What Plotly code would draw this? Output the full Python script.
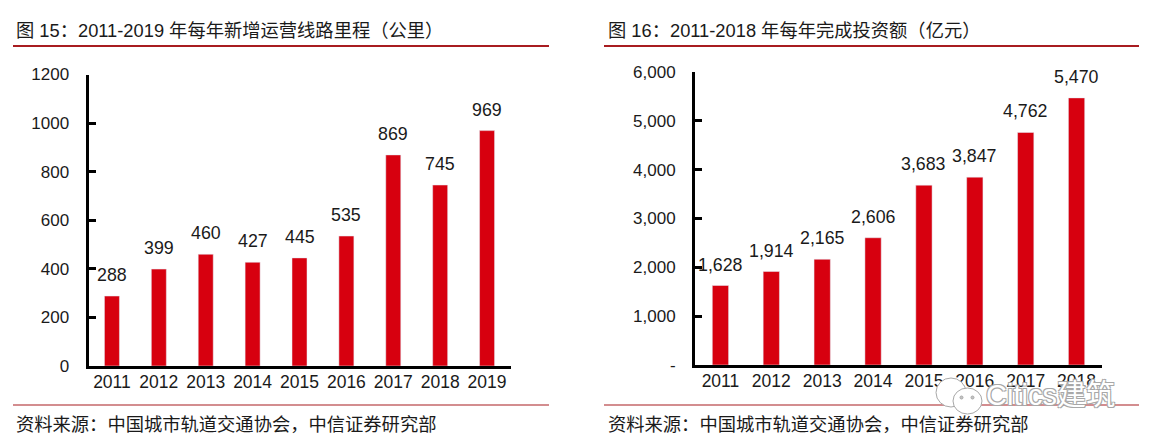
import plotly.graph_objects as go

# Annual new operating mileage (km)
mileage_years = ["2011", "2012", "2013", "2014", "2015", "2016", "2017", "2018", "2019"]
mileage_km = [288, 399, 460, 427, 445, 535, 869, 745, 969]
mileage_ticks = [0, 200, 400, 600, 800, 1000, 1200]
mileage_tick_text = ["0", "200", "400", "600", "800", "1000", "1200"]

# Annual completed investment (100 million yuan)
invest_years = ["2011", "2012", "2013", "2014", "2015", "2016", "2017", "2018"]
invest_amount = [1628, 1914, 2165, 2606, 3683, 3847, 4762, 5470]
invest_ticks = [0, 1000, 2000, 3000, 4000, 5000, 6000]
invest_tick_text = ["-", "1,000", "2,000", "3,000", "4,000", "5,000", "6,000"]

title_left = "图 15：2011-2019 年每年新增运营线路里程（公里）"
title_right = "图 16：2011-2018 年每年完成投资额（亿元）"
source_text = "资料来源：中国城市轨道交通协会，中信证券研究部"
watermark = "Citics建筑"

W, H = 1153, 444
FONT = "Liberation Sans, Noto Sans CJK SC, sans-serif"
BAR = "#d7000f"
RULE = "#a81c20"
INK = "#1a1a1a"


def px(x):
    return x / W


def py(y):
    return 1 - y / H


fig = go.Figure()
fig.add_bar(x=mileage_years, y=mileage_km, marker_color=BAR, xaxis="x", yaxis="y", showlegend=False)
fig.add_bar(x=invest_years, y=invest_amount, marker_color=BAR, xaxis="x2", yaxis="y2", showlegend=False)

annotations = []
for ys, fmt, xr, yr in [
    (mileage_km, "{:d}", "x", "y"),
    (invest_amount, "{:,d}", "x2", "y2"),
]:
    # Category axes take the position index here; year strings would be read as numbers
    for i, b in enumerate(ys):
        annotations.append(dict(x=i, y=b, xref=xr, yref=yr, text=fmt.format(b), showarrow=False,
                                yanchor="bottom", yshift=9, font=dict(size=17.8, color=INK, family=FONT)))

# Panel headings and source lines
for x0, text in [(14, title_left), (606, title_right)]:
    annotations.append(dict(x=px(x0), y=py(31), xref="paper", yref="paper", text=text, showarrow=False,
                            xanchor="left", yanchor="middle", font=dict(size=18.3, color=INK, family=FONT)))
for x0 in (14, 606):
    annotations.append(dict(x=px(x0), y=py(424), xref="paper", yref="paper", text=source_text, showarrow=False,
                            xanchor="left", yanchor="middle", font=dict(size=18.3, color=INK, family=FONT)))

# Watermark with outlined lettering
outline = ",".join(f"{dx}px {dy}px 0 #a8a8a8" for dx, dy in [(-1, -1), (1, -1), (-1, 1), (1, 1)])
annotations.append(dict(x=px(984), y=py(395), xref="paper", yref="paper", text=watermark, showarrow=False,
                        xanchor="left", yanchor="middle",
                        font=dict(size=29, color="white", family=FONT, shadow=outline)))

shapes = [
    dict(type="line", xref="paper", yref="paper", x0=px(13), x1=px(549), y0=py(46), y1=py(46),
         line=dict(color=RULE, width=2.2)),
    dict(type="line", xref="paper", yref="paper", x0=px(604), x1=px(1139), y0=py(46), y1=py(46),
         line=dict(color=RULE, width=2.2)),
    dict(type="line", xref="paper", yref="paper", x0=px(13), x1=px(549), y0=py(405), y1=py(405),
         line=dict(color=RULE, width=1.1)),
    dict(type="line", xref="paper", yref="paper", x0=px(604), x1=px(1139), y0=py(405), y1=py(405),
         line=dict(color=RULE, width=1.1)),
    # Chat-bubble logo beside the watermark
    dict(type="circle", xref="paper", yref="paper", x0=px(936), x1=px(966), y0=py(407), y1=py(378),
         line=dict(color="#a8a8a8", width=1), fillcolor="white"),
    dict(type="circle", xref="paper", yref="paper", x0=px(953), x1=px(982), y0=py(414), y1=py(388),
         line=dict(color="#a8a8a8", width=1), fillcolor="white"),
    dict(type="circle", xref="paper", yref="paper", x0=px(960), x1=px(963), y0=py(399), y1=py(396),
         line=dict(color="#a8a8a8", width=1), fillcolor="#c4c4c4"),
    dict(type="circle", xref="paper", yref="paper", x0=px(971), x1=px(974), y0=py(399), y1=py(396),
         line=dict(color="#a8a8a8", width=1), fillcolor="#c4c4c4"),
]

y_common = dict(ticks="inside", ticklen=7, tickwidth=2.5, tickcolor="black", showline=True, linecolor="black",
                linewidth=3, showgrid=False, zeroline=False, automargin=False,
                tickfont=dict(size=17, color=INK, family=FONT), ticklabelstandoff=13)
x_common = dict(type="category", ticks="", showline=True, linecolor="black", linewidth=3, showgrid=False,
                automargin=False, tickfont=dict(size=17.5, color=INK, family=FONT), ticklabelstandoff=-2)

fig.update_layout(
    width=W, height=H, margin=dict(l=0, r=0, t=0, b=0), paper_bgcolor="white", plot_bgcolor="white",
    bargap=0.68, annotations=annotations, shapes=shapes, showlegend=False,
    xaxis=dict(domain=[px(88.5), px(510.5)], anchor="y", range=[-0.5, len(mileage_years) - 0.5], **x_common),
    yaxis=dict(domain=[py(366), py(74.5)], anchor="x", range=[0, 1200], tickvals=mileage_ticks,
               ticktext=mileage_tick_text, **y_common),
    xaxis2=dict(domain=[px(695), px(1102)], anchor="y2", range=[-0.5, len(invest_years) - 0.5], **x_common),
    yaxis2=dict(domain=[py(365), py(72)], anchor="x2", range=[0, 6000], tickvals=invest_ticks,
                ticktext=invest_tick_text, **y_common),
)

fig.write_html("out.html")
